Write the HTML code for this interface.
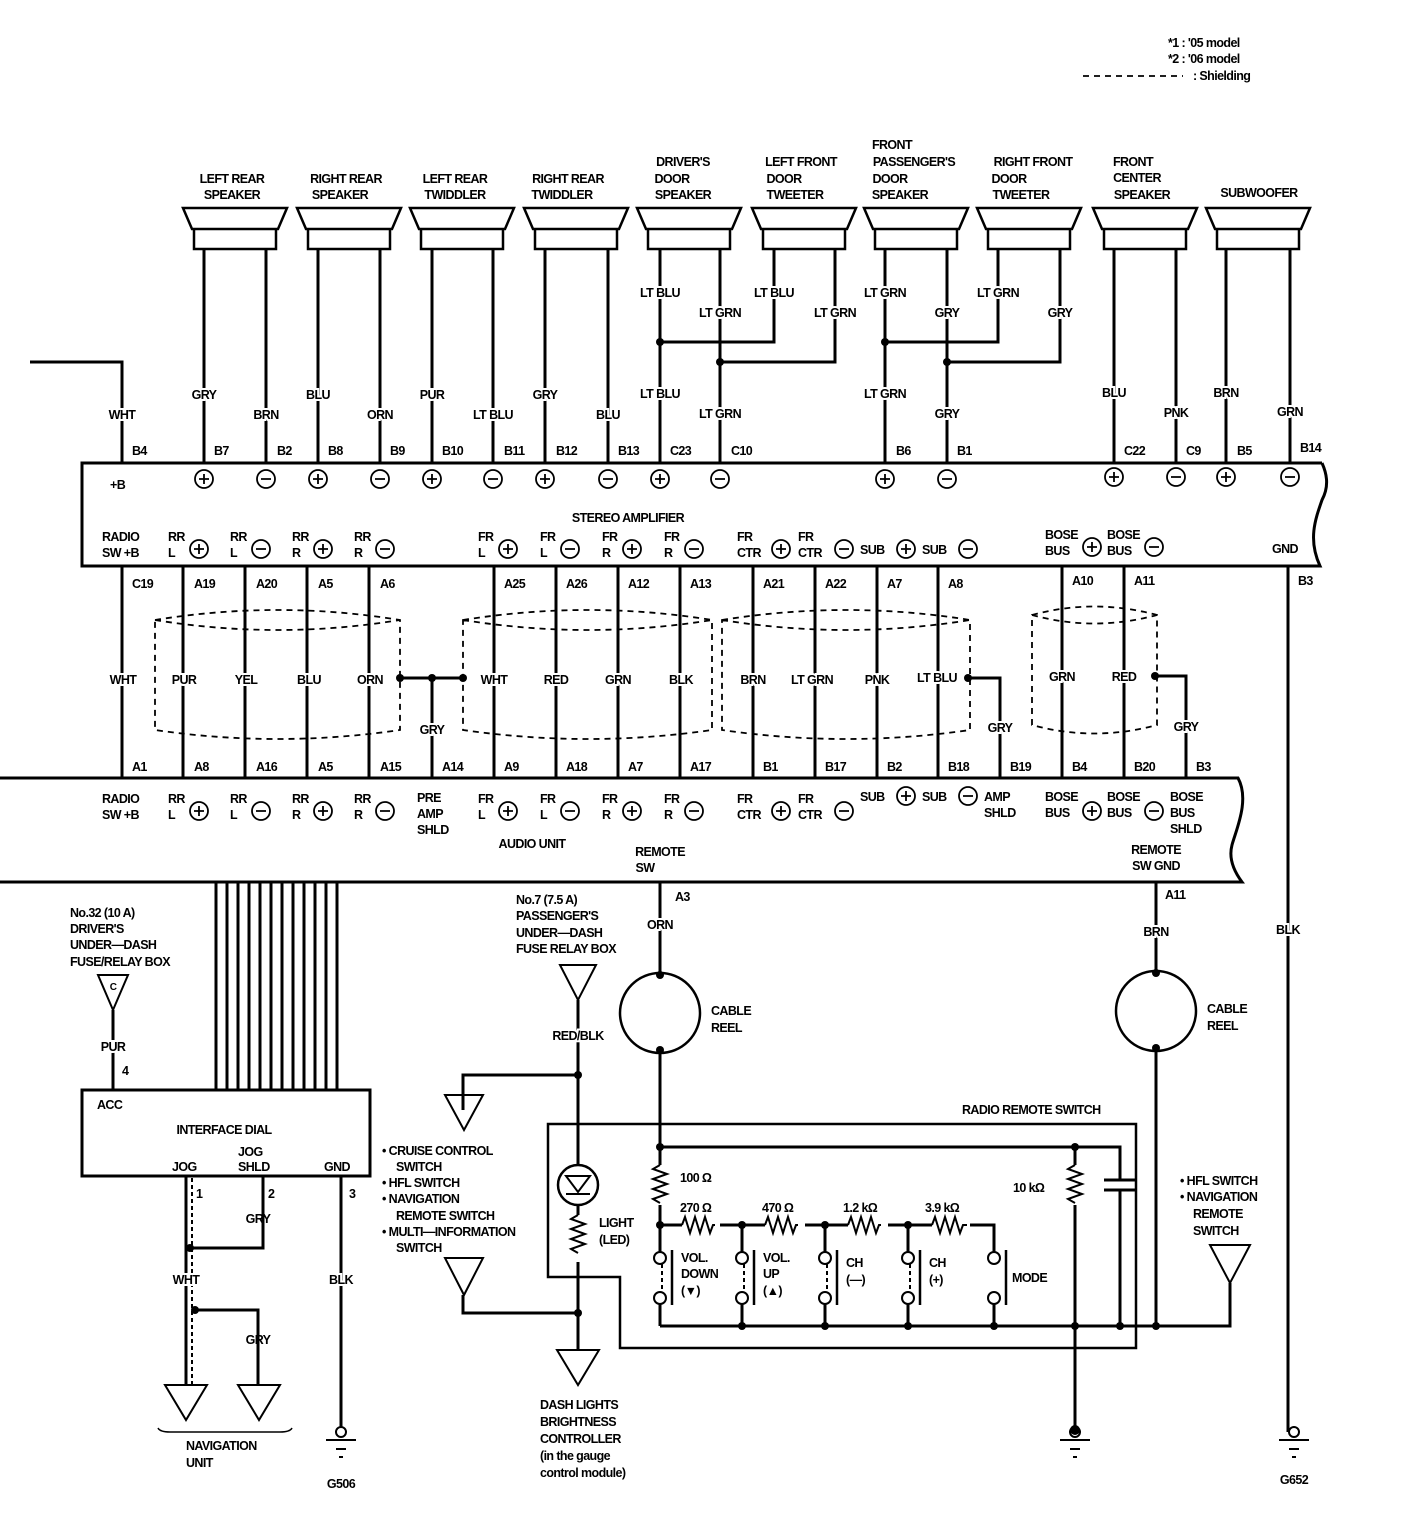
<!DOCTYPE html>
<html><head><meta charset="utf-8"><style>
html,body{margin:0;padding:0;background:#fff}
svg{display:block}
text{font-family:"Liberation Sans",sans-serif;font-weight:bold;font-size:12.5px;fill:#000;letter-spacing:-0.6px}
.m{text-anchor:middle}
.w{stroke:#fff;stroke-width:4px;paint-order:stroke}
</style></head><body>
<svg width="1408" height="1532" viewBox="0 0 1408 1532" xmlns="http://www.w3.org/2000/svg">
<g fill="none" stroke="#000" stroke-width="3">
<!-- top-left lead -->
<polyline points="30,362 122,362 122,463"/>
<!-- speakers -->
<g stroke-width="2.5">
<path d="M183,208 H287 L278,229 H192 Z M194,229 H276 V249 H194 Z"/>
<path d="M297,208 H401 L392,229 H306 Z M308,229 H390 V249 H308 Z"/>
<path d="M410,208 H514 L505,229 H419 Z M421,229 H503 V249 H421 Z"/>
<path d="M524,208 H628 L619,229 H533 Z M535,229 H617 V249 H535 Z"/>
<path d="M637,208 H741 L732,229 H646 Z M648,229 H730 V249 H648 Z"/>
<path d="M752,208 H856 L847,229 H761 Z M763,229 H845 V249 H763 Z"/>
<path d="M864,208 H968 L959,229 H873 Z M875,229 H957 V249 H875 Z"/>
<path d="M977,208 H1081 L1072,229 H986 Z M988,229 H1070 V249 H988 Z"/>
<path d="M1093,208 H1197 L1188,229 H1102 Z M1104,229 H1186 V249 H1104 Z"/>
<path d="M1206,208 H1310 L1301,229 H1215 Z M1217,229 H1299 V249 H1217 Z"/>
</g>
<!-- speaker wires -->
<path d="M204,249V463 M266,249V463 M318,249V463 M380,249V463 M432,249V463 M493,249V463 M545,249V463 M608,249V463 M660,249V463 M720,249V463 M774,249V342 H660 M835,249V362 H720 M885,249V463 M947,249V463 M998,249V342 H885 M1060,249V362 H947 M1114,249V463 M1176,249V463 M1226,249V463 M1290,249V463"/>
<!-- amplifier box -->
<path d="M1322,463 H82 V566 H1320 C1308,540 1315,520 1322,500 C1330,485 1326,472 1322,463"/>
<!-- wires amp to audio -->
<path d="M122,566V778 M183,566V778 M245,566V778 M307,566V778 M369,566V778 M494,566V778 M556,566V778 M618,566V778 M680,566V778 M753,566V778 M815,566V778 M877,566V778 M938,566V778 M1062,566V778 M1124,566V778 M1288,566V1432"/>
<path d="M400,678 H463 M432,678 V778 M968,678 H1000 V778 M1155,676 H1186 V778"/>
<!-- audio unit -->
<path d="M0,778 H1238 C1250,800 1236,830 1232,845 C1228,860 1236,874 1242,882 H0"/>
<!-- bundle -->
<path d="M216,882V1090 M227,882V1090 M238,882V1090 M249,882V1090 M260,882V1090 M271,882V1090 M282,882V1090 M293,882V1090 M304,882V1090 M315,882V1090 M326,882V1090 M337,882V1090"/>
<!-- interface dial -->
<rect x="82" y="1090" width="288" height="86"/>
<path d="M113,1010V1090"/>
<path d="M98,975 H128 L113,1010 Z" stroke-width="2"/>
<path d="M186,1176V1385 M263,1176V1248 H186 M195,1310 H258 V1385 M341,1176V1427"/>
<path d="M192,1178V1385" stroke-width="2" stroke-dasharray="4,3"/>
<path d="M165,1385 H207 L186,1420 Z M238,1385 H280 L259,1420 Z" stroke-width="2"/>
<path d="M158,1428 Q160,1432 170,1432 H280 Q290,1432 292,1428" stroke-width="1.5"/>
<!-- middle fuse line -->
<path d="M560,965 H596 L578,1000 Z" stroke-width="2"/>
<path d="M578,1000V1165 M578,1205V1215 M578,1262V1350 M463,1110V1075 H578 M463,1295V1313 H578"/>
<path d="M445,1095 H483 L464,1130 Z M445,1258 H483 L464,1295 Z M557,1350 H599 L578,1385 Z" stroke-width="2"/>
<circle cx="578" cy="1185" r="20" stroke-width="2.5"/>
<path d="M566,1176 H590 L578,1192 Z M566,1194 H590" stroke-width="2"/>
<path d="M578,1215 l-7,4 14,5 -14,5 14,5 -14,5 14,5 -14,5 7,4" stroke-width="2"/>
<!-- cable reels -->
<circle cx="660" cy="1013" r="40" stroke-width="2.5"/>
<circle cx="1156" cy="1011" r="40" stroke-width="2.5"/>
<path d="M660,882V973 M660,1053V1165 M1156,882V971 M1156,1051V1326"/>
<!-- remote switch box -->
<path d="M548,1124 H1136 V1348 H620 V1277 H548 Z" stroke-width="2.5"/>
<path d="M660,1147 H1120 V1180 M1120,1190 V1326 M1075,1147 V1165 M1075,1205 V1430"/>
<path d="M1104,1180 H1136 M1104,1190 H1136" stroke-width="3"/>
<path d="M660,1165 l-7,4 14,5 -14,5 14,5 -14,5 14,5 -14,5 7,4 M1075,1165 l-7,4 14,5 -14,5 14,5 -14,5 14,5 -14,5 7,4" stroke-width="2"/>
<path d="M660,1205 V1252 M660,1225 H682 M720,1225 H742 M742,1225 H765 M805,1225 H825 M825,1225 H848 M888,1225 H908 M908,1225 H932 M970,1225 H994 V1252 M742,1225V1252 M825,1225V1252 M908,1225V1252"/>
<path d="M682,1225 l3,-8 5,16 5,-16 5,16 5,-16 5,16 3,-8 h2 M765,1225 l3,-8 5,16 5,-16 5,16 5,-16 5,16 3,-8 h2 M848,1225 l3,-8 5,16 5,-16 5,16 5,-16 5,16 3,-8 h2 M932,1225 l3,-8 5,16 5,-16 5,16 5,-16 5,16 3,-8 h4" stroke-width="2"/>
<g stroke-width="2">
<circle cx="660" cy="1258" r="6"/><circle cx="660" cy="1298" r="6"/>
<circle cx="742" cy="1258" r="6"/><circle cx="742" cy="1298" r="6"/>
<circle cx="825" cy="1258" r="6"/><circle cx="825" cy="1298" r="6"/>
<circle cx="908" cy="1258" r="6"/><circle cx="908" cy="1298" r="6"/>
<circle cx="994" cy="1258" r="6"/><circle cx="994" cy="1298" r="6"/>
</g>
<path d="M662,1264V1292 M744,1264V1292 M827,1264V1292 M910,1264V1292" stroke-width="2" stroke-dasharray="4,3"/>
<path d="M672,1250V1305 M754,1250V1305 M837,1250V1305 M920,1250V1305 M1006,1250V1305" stroke-width="2.5"/>
<path d="M660,1304V1326 M742,1304V1326 M825,1304V1326 M908,1304V1326 M994,1304V1326 M660,1326 H1230 V1283"/>
<path d="M1210,1245 H1250 L1230,1283 Z" stroke-width="2"/>
<!-- grounds -->
<g stroke-width="2">
<circle cx="341" cy="1432" r="5"/><path d="M326,1440H356 M336,1449H346 M339,1457H343"/>
<circle cx="1075" cy="1432" r="5"/><path d="M1060,1440H1090 M1070,1449H1080 M1073,1457H1077"/>
<circle cx="1294" cy="1432" r="5"/><path d="M1279,1440H1309 M1289,1449H1299 M1292,1457H1296"/>
</g>
<!-- shields -->
<g stroke-width="1.8" stroke-dasharray="6,5">
<path d="M155,620 Q278,600 400,620 V730 Q278,748 155,730 Z M155,620 Q278,640 400,620"/>
<path d="M463,620 Q588,600 712,620 V730 Q588,748 463,730 Z M463,620 Q588,640 712,620"/>
<path d="M722,620 Q846,600 970,620 V730 Q846,748 722,730 Z M722,620 Q846,640 970,620"/>
<path d="M1032,615 Q1094,598 1157,615 V725 Q1094,742 1032,725 Z M1032,615 Q1094,632 1157,615"/>
<path d="M1083,76 H1183"/>
</g>
</g>
<!-- dots -->
<g fill="#000">
<circle cx="660" cy="342" r="4"/><circle cx="720" cy="362" r="4"/><circle cx="885" cy="342" r="4"/><circle cx="947" cy="362" r="4"/>
<circle cx="400" cy="678" r="4"/><circle cx="432" cy="678" r="4"/><circle cx="463" cy="678" r="4"/><circle cx="968" cy="678" r="4"/><circle cx="1155" cy="676" r="4"/>
<circle cx="190" cy="1248" r="4"/><circle cx="195" cy="1310" r="4"/>
<circle cx="578" cy="1075" r="4"/><circle cx="578" cy="1313" r="4"/>
<circle cx="660" cy="975" r="4"/><circle cx="660" cy="1050" r="4"/><circle cx="1156" cy="973" r="4"/><circle cx="1156" cy="1048" r="4"/>
<circle cx="660" cy="1147" r="4"/><circle cx="1075" cy="1147" r="4"/><circle cx="660" cy="1225" r="4"/><circle cx="742" cy="1225" r="4"/><circle cx="825" cy="1225" r="4"/><circle cx="908" cy="1225" r="4"/>
<circle cx="742" cy="1326" r="4"/><circle cx="825" cy="1326" r="4"/><circle cx="908" cy="1326" r="4"/><circle cx="994" cy="1326" r="4"/><circle cx="1075" cy="1326" r="4"/><circle cx="1120" cy="1326" r="4"/><circle cx="1156" cy="1326" r="4"/>
<circle cx="1075" cy="1430" r="5"/>
</g>
<!-- legend -->
<text x="1168" y="47">*1 : '05 model</text>
<text x="1168" y="63">*2 : '06 model</text>
<text x="1193" y="80">: Shielding</text>
<!-- speaker titles -->
<g class="m">
<text x="232" y="183">LEFT REAR</text><text x="232" y="199">SPEAKER</text>
<text x="346" y="183">RIGHT REAR</text><text x="340" y="199">SPEAKER</text>
<text x="455" y="183">LEFT REAR</text><text x="455" y="199">TWIDDLER</text>
<text x="568" y="183">RIGHT REAR</text><text x="562" y="199">TWIDDLER</text>
<text x="683" y="166">DRIVER'S</text><text x="672" y="183">DOOR</text><text x="683" y="199">SPEAKER</text>
<text x="801" y="166">LEFT FRONT</text><text x="784" y="183">DOOR</text><text x="795" y="199">TWEETER</text>
<text x="892" y="149">FRONT</text><text x="914" y="166">PASSENGER'S</text><text x="890" y="183">DOOR</text><text x="900" y="199">SPEAKER</text>
<text x="1033" y="166">RIGHT FRONT</text><text x="1009" y="183">DOOR</text><text x="1021" y="199">TWEETER</text>
<text x="1133" y="166">FRONT</text><text x="1137" y="182">CENTER</text><text x="1142" y="199">SPEAKER</text>
<text x="1259" y="197">SUBWOOFER</text>
</g>
<!-- wire labels top -->
<g class="m w">
<text x="122" y="419">WHT</text><text x="204" y="399">GRY</text><text x="266" y="419">BRN</text>
<text x="318" y="399">BLU</text><text x="380" y="419">ORN</text><text x="432" y="399">PUR</text>
<text x="493" y="419">LT BLU</text><text x="545" y="399">GRY</text><text x="608" y="419">BLU</text>
<text x="660" y="297">LT BLU</text><text x="720" y="317">LT GRN</text><text x="774" y="297">LT BLU</text><text x="835" y="317">LT GRN</text>
<text x="885" y="297">LT GRN</text><text x="947" y="317">GRY</text><text x="998" y="297">LT GRN</text><text x="1060" y="317">GRY</text>
<text x="660" y="398">LT BLU</text><text x="720" y="418">LT GRN</text><text x="885" y="398">LT GRN</text><text x="947" y="418">GRY</text>
<text x="1114" y="397">BLU</text><text x="1176" y="417">PNK</text><text x="1226" y="397">BRN</text><text x="1290" y="416">GRN</text>
</g>
<!-- pins top -->
<text x="132" y="455">B4</text><text x="214" y="455">B7</text><text x="277" y="455">B2</text><text x="328" y="455">B8</text>
<text x="390" y="455">B9</text><text x="442" y="455">B10</text><text x="504" y="455">B11</text><text x="556" y="455">B12</text>
<text x="618" y="455">B13</text><text x="670" y="455">C23</text><text x="731" y="455">C10</text><text x="896" y="455">B6</text>
<text x="957" y="455">B1</text><text x="1124" y="455">C22</text><text x="1186" y="455">C9</text><text x="1237" y="455">B5</text><text x="1300" y="452">B14</text>
<!-- amp circles -->
<g fill="#fff" stroke="#000" stroke-width="1.8">
<circle cx="204" cy="479" r="9"/><circle cx="266" cy="479" r="9"/><circle cx="318" cy="479" r="9"/><circle cx="380" cy="479" r="9"/>
<circle cx="432" cy="479" r="9"/><circle cx="493" cy="479" r="9"/><circle cx="545" cy="479" r="9"/><circle cx="608" cy="479" r="9"/>
<circle cx="660" cy="479" r="9"/><circle cx="720" cy="479" r="9"/><circle cx="885" cy="479" r="9"/><circle cx="947" cy="479" r="9"/>
<circle cx="1114" cy="477" r="9"/><circle cx="1176" cy="477" r="9"/><circle cx="1226" cy="477" r="9"/><circle cx="1290" cy="477" r="9"/>
<circle cx="199" cy="549" r="9"/><circle cx="261" cy="549" r="9"/><circle cx="323" cy="549" r="9"/><circle cx="385" cy="549" r="9"/>
<circle cx="508" cy="549" r="9"/><circle cx="570" cy="549" r="9"/><circle cx="632" cy="549" r="9"/><circle cx="694" cy="549" r="9"/>
<circle cx="781" cy="549" r="9"/><circle cx="844" cy="549" r="9"/><circle cx="906" cy="549" r="9"/><circle cx="968" cy="549" r="9"/>
<circle cx="1092" cy="547" r="9"/><circle cx="1154" cy="547" r="9"/>
<circle cx="199" cy="811" r="9"/><circle cx="261" cy="811" r="9"/><circle cx="323" cy="811" r="9"/><circle cx="385" cy="811" r="9"/>
<circle cx="508" cy="811" r="9"/><circle cx="570" cy="811" r="9"/><circle cx="632" cy="811" r="9"/><circle cx="694" cy="811" r="9"/>
<circle cx="781" cy="811" r="9"/><circle cx="844" cy="811" r="9"/><circle cx="906" cy="796" r="9"/><circle cx="968" cy="796" r="9"/>
<circle cx="1092" cy="811" r="9"/><circle cx="1154" cy="811" r="9"/>
</g>
<g stroke="#000" stroke-width="1.8">
<path d="M199,479h10m-5,-5v10 M261,479h10 M313,479h10m-5,-5v10 M375,479h10 M427,479h10m-5,-5v10 M488,479h10 M540,479h10m-5,-5v10 M603,479h10 M655,479h10m-5,-5v10 M715,479h10 M880,479h10m-5,-5v10 M942,479h10 M1109,477h10m-5,-5v10 M1171,477h10 M1221,477h10m-5,-5v10 M1285,477h10" transform="translate(0,0)"/>
<path d="M194,549h10m-5,-5v10 M256,549h10 M318,549h10m-5,-5v10 M380,549h10 M503,549h10m-5,-5v10 M565,549h10 M627,549h10m-5,-5v10 M689,549h10 M776,549h10m-5,-5v10 M839,549h10 M901,549h10m-5,-5v10 M963,549h10 M1087,547h10m-5,-5v10 M1149,547h10"/>
<path d="M194,811h10m-5,-5v10 M256,811h10 M318,811h10m-5,-5v10 M380,811h10 M503,811h10m-5,-5v10 M565,811h10 M627,811h10m-5,-5v10 M689,811h10 M776,811h10m-5,-5v10 M839,811h10 M901,796h10m-5,-5v10 M963,796h10 M1087,811h10m-5,-5v10 M1149,811h10"/>
</g>
<!-- amp labels -->
<text x="110" y="489">+B</text>
<text x="628" y="522" class="m">STEREO AMPLIFIER</text>
<text x="102" y="541">RADIO</text><text x="102" y="557">SW +B</text>
<text x="168" y="541">RR</text><text x="168" y="557">L</text><text x="230" y="541">RR</text><text x="230" y="557">L</text>
<text x="292" y="541">RR</text><text x="292" y="557">R</text><text x="354" y="541">RR</text><text x="354" y="557">R</text>
<text x="478" y="541">FR</text><text x="478" y="557">L</text><text x="540" y="541">FR</text><text x="540" y="557">L</text>
<text x="602" y="541">FR</text><text x="602" y="557">R</text><text x="664" y="541">FR</text><text x="664" y="557">R</text>
<text x="737" y="541">FR</text><text x="737" y="557">CTR</text><text x="798" y="541">FR</text><text x="798" y="557">CTR</text>
<text x="860" y="554">SUB</text><text x="922" y="554">SUB</text>
<text x="1045" y="539">BOSE</text><text x="1045" y="555">BUS</text><text x="1107" y="539">BOSE</text><text x="1107" y="555">BUS</text>
<text x="1272" y="553">GND</text>
<!-- pins mid -->
<text x="132" y="588">C19</text><text x="194" y="588">A19</text><text x="256" y="588">A20</text><text x="318" y="588">A5</text><text x="380" y="588">A6</text>
<text x="504" y="588">A25</text><text x="566" y="588">A26</text><text x="628" y="588">A12</text><text x="690" y="588">A13</text>
<text x="763" y="588">A21</text><text x="825" y="588">A22</text><text x="887" y="588">A7</text><text x="948" y="588">A8</text>
<text x="1072" y="585">A10</text><text x="1134" y="585">A11</text><text x="1298" y="585">B3</text>
<g class="m w">
<text x="123" y="684">WHT</text><text x="184" y="684">PUR</text><text x="246" y="684">YEL</text><text x="309" y="684">BLU</text><text x="370" y="684">ORN</text>
<text x="494" y="684">WHT</text><text x="556" y="684">RED</text><text x="618" y="684">GRN</text><text x="681" y="684">BLK</text>
<text x="753" y="684">BRN</text><text x="812" y="684">LT GRN</text><text x="877" y="684">PNK</text><text x="937" y="682">LT BLU</text>
<text x="1062" y="681">GRN</text><text x="1124" y="681">RED</text>
<text x="432" y="734">GRY</text><text x="1000" y="732">GRY</text><text x="1186" y="731">GRY</text>
</g>
<text x="132" y="771">A1</text><text x="194" y="771">A8</text><text x="256" y="771">A16</text><text x="318" y="771">A5</text><text x="380" y="771">A15</text>
<text x="442" y="771">A14</text><text x="504" y="771">A9</text><text x="566" y="771">A18</text><text x="628" y="771">A7</text><text x="690" y="771">A17</text>
<text x="763" y="771">B1</text><text x="825" y="771">B17</text><text x="887" y="771">B2</text><text x="948" y="771">B18</text><text x="1010" y="771">B19</text>
<text x="1072" y="771">B4</text><text x="1134" y="771">B20</text><text x="1196" y="771">B3</text>
<!-- audio unit labels -->
<text x="102" y="803">RADIO</text><text x="102" y="819">SW +B</text>
<text x="168" y="803">RR</text><text x="168" y="819">L</text><text x="230" y="803">RR</text><text x="230" y="819">L</text>
<text x="292" y="803">RR</text><text x="292" y="819">R</text><text x="354" y="803">RR</text><text x="354" y="819">R</text>
<text x="417" y="802">PRE</text><text x="417" y="818">AMP</text><text x="417" y="834">SHLD</text>
<text x="478" y="803">FR</text><text x="478" y="819">L</text><text x="540" y="803">FR</text><text x="540" y="819">L</text>
<text x="602" y="803">FR</text><text x="602" y="819">R</text><text x="664" y="803">FR</text><text x="664" y="819">R</text>
<text x="737" y="803">FR</text><text x="737" y="819">CTR</text><text x="798" y="803">FR</text><text x="798" y="819">CTR</text>
<text x="860" y="801">SUB</text><text x="922" y="801">SUB</text>
<text x="984" y="801">AMP</text><text x="984" y="817">SHLD</text>
<text x="1045" y="801">BOSE</text><text x="1045" y="817">BUS</text><text x="1107" y="801">BOSE</text><text x="1107" y="817">BUS</text>
<text x="1170" y="801">BOSE</text><text x="1170" y="817">BUS</text><text x="1170" y="833">SHLD</text>
<text x="532" y="848" class="m">AUDIO UNIT</text>
<text x="660" y="856" class="m">REMOTE</text><text x="645" y="872" class="m">SW</text>
<text x="1156" y="854" class="m">REMOTE</text><text x="1156" y="870" class="m">SW GND</text>
<!-- lower left -->
<text x="70" y="917">No.32 (10 A)</text><text x="70" y="933">DRIVER'S</text><text x="70" y="949">UNDER—DASH</text><text x="70" y="966">FUSE/RELAY BOX</text>
<text x="113" y="990" class="m" style="font-size:10px">C</text>
<text x="113" y="1051" class="m w">PUR</text><text x="122" y="1075">4</text>
<text x="97" y="1109">ACC</text><text x="224" y="1134" class="m">INTERFACE DIAL</text>
<text x="172" y="1171">JOG</text><text x="238" y="1156">JOG</text><text x="238" y="1171">SHLD</text><text x="324" y="1171">GND</text>
<text x="196" y="1198">1</text><text x="268" y="1198">2</text><text x="349" y="1198">3</text>
<text x="258" y="1223" class="m">GRY</text><text x="186" y="1284" class="m w">WHT</text><text x="258" y="1344" class="m">GRY</text>
<text x="341" y="1284" class="m w">BLK</text>
<text x="186" y="1450">NAVIGATION</text><text x="186" y="1467">UNIT</text>
<text x="341" y="1488" class="m">G506</text>
<!-- middle -->
<text x="516" y="904">No.7 (7.5 A)</text><text x="516" y="920">PASSENGER'S</text><text x="516" y="937">UNDER—DASH</text><text x="516" y="953">FUSE RELAY BOX</text>
<text x="578" y="1040" class="m w">RED/BLK</text>
<text x="382" y="1155">•  CRUISE CONTROL</text><text x="396" y="1171">SWITCH</text>
<text x="382" y="1187">•  HFL SWITCH</text><text x="382" y="1203">•  NAVIGATION</text><text x="396" y="1220">REMOTE SWITCH</text>
<text x="382" y="1236">•  MULTI—INFORMATION</text><text x="396" y="1252">SWITCH</text>
<text x="599" y="1227">LIGHT</text><text x="599" y="1244">(LED)</text>
<text x="540" y="1409">DASH LIGHTS</text><text x="540" y="1426">BRIGHTNESS</text><text x="540" y="1443">CONTROLLER</text>
<text x="540" y="1460">(in the gauge</text><text x="540" y="1477">control module)</text>
<text x="675" y="901">A3</text><text x="660" y="929" class="m w">ORN</text>
<text x="711" y="1015">CABLE</text><text x="711" y="1032">REEL</text>
<text x="1165" y="899">A11</text><text x="1156" y="936" class="m w">BRN</text>
<text x="1207" y="1013">CABLE</text><text x="1207" y="1030">REEL</text>
<text x="1288" y="934" class="m w">BLK</text>
<text x="1294" y="1484" class="m">G652</text>
<text x="962" y="1114">RADIO REMOTE SWITCH</text>
<text x="680" y="1182">100 Ω</text><text x="680" y="1212">270 Ω</text><text x="762" y="1212">470 Ω</text>
<text x="843" y="1212">1.2 kΩ</text><text x="925" y="1212">3.9 kΩ</text><text x="1013" y="1192">10 kΩ</text>
<text x="681" y="1262">VOL.</text><text x="681" y="1278">DOWN</text><text x="681" y="1295">(▼)</text>
<text x="763" y="1262">VOL.</text><text x="763" y="1278">UP</text><text x="763" y="1295">(▲)</text>
<text x="846" y="1267">CH</text><text x="846" y="1284">(—)</text>
<text x="929" y="1267">CH</text><text x="929" y="1284">(+)</text>
<text x="1012" y="1282">MODE</text>
<text x="1180" y="1185">•  HFL SWITCH</text><text x="1180" y="1201">•  NAVIGATION</text><text x="1193" y="1218">REMOTE</text><text x="1193" y="1235">SWITCH</text>
</svg>
</body></html>
